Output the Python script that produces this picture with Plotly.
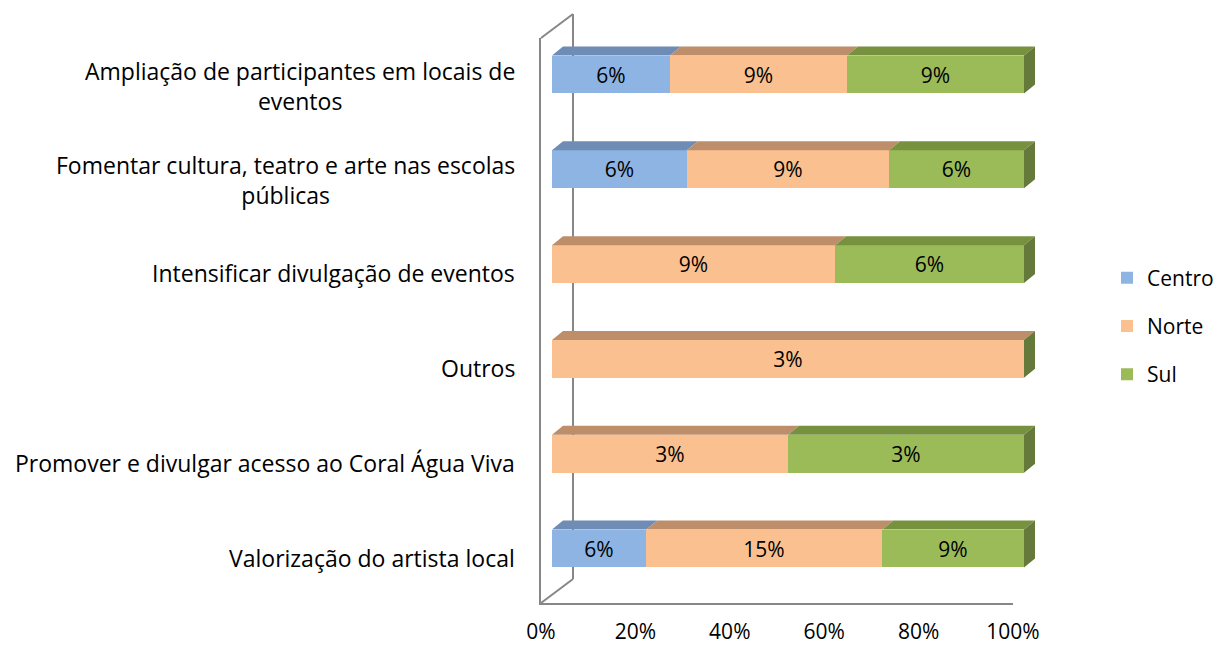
import plotly.graph_objects as go

# ---------------- data ----------------
categories = [
    "Ampliação de participantes em locais de<br>eventos",
    "Fomentar cultura, teatro e arte nas escolas<br>públicas",
    "Intensificar divulgação de eventos",
    "Outros",
    "Promover e divulgar acesso ao Coral Água Viva",
    "Valorização do artista local",
]
series_names = ["Centro", "Norte", "Sul"]
centro = [6, 6, 0, 0, 0, 6]
norte = [9, 9, 9, 3, 3, 15]
sul = [9, 6, 6, 0, 3, 9]
x_ticks = [0, 20, 40, 60, 80, 100]

front_colors = ["#8DB4E2", "#FAC08F", "#9BBB59"]
top_colors = ["#6E8CB4", "#BE8E6B", "#77923F"]
side_color = "#64793A"

# ---------------- layout constants (screen pixels) ----------------
OFF = 8                      # page body margin
W, H = 1223 - OFF, 648 - OFF
FONT = "Open Sans"
FS_LABEL = 23
FS_TICK = 21
FS_BAR = 21
FS_LEG = 21
AX_L, AX_R, AX_T, AX_B = 541, 1013, 38, 603     # front plane of the wall
BAR_DX, BAR_DY = 11, 9                         # bar front-face offset
DEPTH_DX, DEPTH_DY = 11, 9                     # bar depth
WALL_DX, WALL_DY = 32, 24                      # wall depth
Y_RANGE = [-0.48, 5.48]
BAR_W = 0.40
X_EXTRA = 1.06

def fx(p):
    return (p - OFF) / W

def fy(p):
    return 1 - (p - OFF) / H

n = len(categories)
ypos = [n - 1 - k for k in range(n)]
all_vals = [centro, norte, sul]
totals = [sum(v[k] for v in all_vals) for k in range(n)]
shares = [[v[k] / totals[k] * 100 for k in range(n)] for v in all_vals]

px_per_x = (AX_R - AX_L) / 100.0
px_per_y = (AX_B - AX_T) / (Y_RANGE[1] - Y_RANGE[0])
dxu = DEPTH_DX / px_per_x
dyu = DEPTH_DY / px_per_y

fig = go.Figure()

# front faces
for s, name in enumerate(series_names):
    vals = all_vals[s]
    fig.add_trace(go.Bar(
        y=ypos, x=shares[s], orientation="h", name=name,
        marker=dict(color=front_colors[s], line=dict(width=0)),
        text=[f"{v}%" if v else "" for v in vals],
        textposition="inside", insidetextanchor="middle", textangle=0,
        textfont=dict(family=FONT, size=FS_BAR, color="black"),
        constraintext="none", width=BAR_W,
        xaxis="x2", yaxis="y2", legendgroup=name, hoverinfo="skip",
    ))

# top faces
for s in range(3):
    xs, ys = [], []
    for k in range(n):
        base = sum(shares[j][k] for j in range(s))
        end = base + shares[s][k]
        if shares[s][k] <= 0:
            continue
        yt = ypos[k] + BAR_W / 2
        xs += [base, end, end + dxu, base + dxu, base, None]
        ys += [yt, yt, yt + dyu, yt + dyu, yt, None]
    fig.add_trace(go.Scatter(
        x=xs, y=ys, fill="toself", fillcolor=top_colors[s], mode="lines",
        line=dict(width=0), showlegend=False, hoverinfo="skip",
        xaxis="x2", yaxis="y2",
    ))

# right side faces (end of stack)
xs, ys = [], []
for k in range(n):
    end = sum(shares[j][k] for j in range(3))
    yb, yt = ypos[k] - BAR_W / 2, ypos[k] + BAR_W / 2
    xs += [end, end + dxu, end + dxu, end, end, None]
    ys += [yb, yb + dyu, yt + dyu, yt, yb, None]
fig.add_trace(go.Scatter(
    x=xs, y=ys, fill="toself", fillcolor=side_color, mode="lines",
    line=dict(width=0), showlegend=False, hoverinfo="skip",
    xaxis="x2", yaxis="y2",
))

# category labels
annotations = []
for k in range(n):
    multi = "<br>" in categories[k]
    annotations.append(dict(
        x=fx(517), xref="paper", xanchor="right",
        y=ypos[k], yref="y", yanchor="middle", yshift=-2 if multi else 0,
        text=categories[k], showarrow=False, align="center",
        font=dict(family=FONT, size=FS_LABEL, color="black"),
    ))

# wall (back line + depth diagonals)
line_style = dict(color="#878787", width=2)
shapes = [
    dict(type="line", xref="paper", yref="paper", layer="below",
         x0=fx(AX_L + WALL_DX), y0=fy(AX_T - WALL_DY),
         x1=fx(AX_L + WALL_DX), y1=fy(AX_B - WALL_DY), line=line_style),
    dict(type="line", xref="paper", yref="paper", layer="below",
         x0=fx(AX_L), y0=fy(AX_T),
         x1=fx(AX_L + WALL_DX), y1=fy(AX_T - WALL_DY), line=line_style),
    dict(type="line", xref="paper", yref="paper", layer="below",
         x0=fx(AX_L), y0=fy(AX_B),
         x1=fx(AX_L + WALL_DX), y1=fy(AX_B - WALL_DY), line=line_style),
]

x2_left = AX_L + BAR_DX
x2_right = x2_left + (AX_R - AX_L) * X_EXTRA

fig.update_layout(
    width=W, height=H,
    margin=dict(l=0, r=0, t=0, b=0, autoexpand=False),
    paper_bgcolor="white", plot_bgcolor="rgba(0,0,0,0)",
    barmode="stack", bargap=0,
    font=dict(family=FONT, size=FS_LABEL, color="black"),
    xaxis=dict(domain=[fx(AX_L), fx(AX_R)], range=[0, 100],
               tickvals=x_ticks, ticktext=[f"{t}%" for t in x_ticks],
               showgrid=False, zeroline=False, showline=True,
               linecolor="#878787", linewidth=2, ticks="",
               ticklabelstandoff=9, anchor="y",
               tickfont=dict(family=FONT, size=FS_TICK, color="black"),
               fixedrange=True),
    yaxis=dict(domain=[fy(AX_B), fy(AX_T)], range=Y_RANGE,
               showticklabels=False, showgrid=False, zeroline=False,
               showline=True, linecolor="#878787", linewidth=2, ticks="",
               anchor="x", fixedrange=True),
    xaxis2=dict(domain=[fx(x2_left), fx(x2_right)], range=[0, 100 * X_EXTRA],
                visible=False, anchor="y2", fixedrange=True),
    yaxis2=dict(domain=[fy(AX_B - BAR_DY), fy(AX_T - BAR_DY)], range=Y_RANGE,
                visible=False, anchor="x2", fixedrange=True),
    legend=dict(x=fx(1107), xanchor="left", y=fy(326), yanchor="middle",
                traceorder="grouped", tracegroupgap=18,
                font=dict(family=FONT, size=FS_LEG, color="black"),
                bgcolor="rgba(0,0,0,0)"),
    annotations=annotations,
    shapes=shapes,
    showlegend=True,
)

fig.write_html("out.html")
